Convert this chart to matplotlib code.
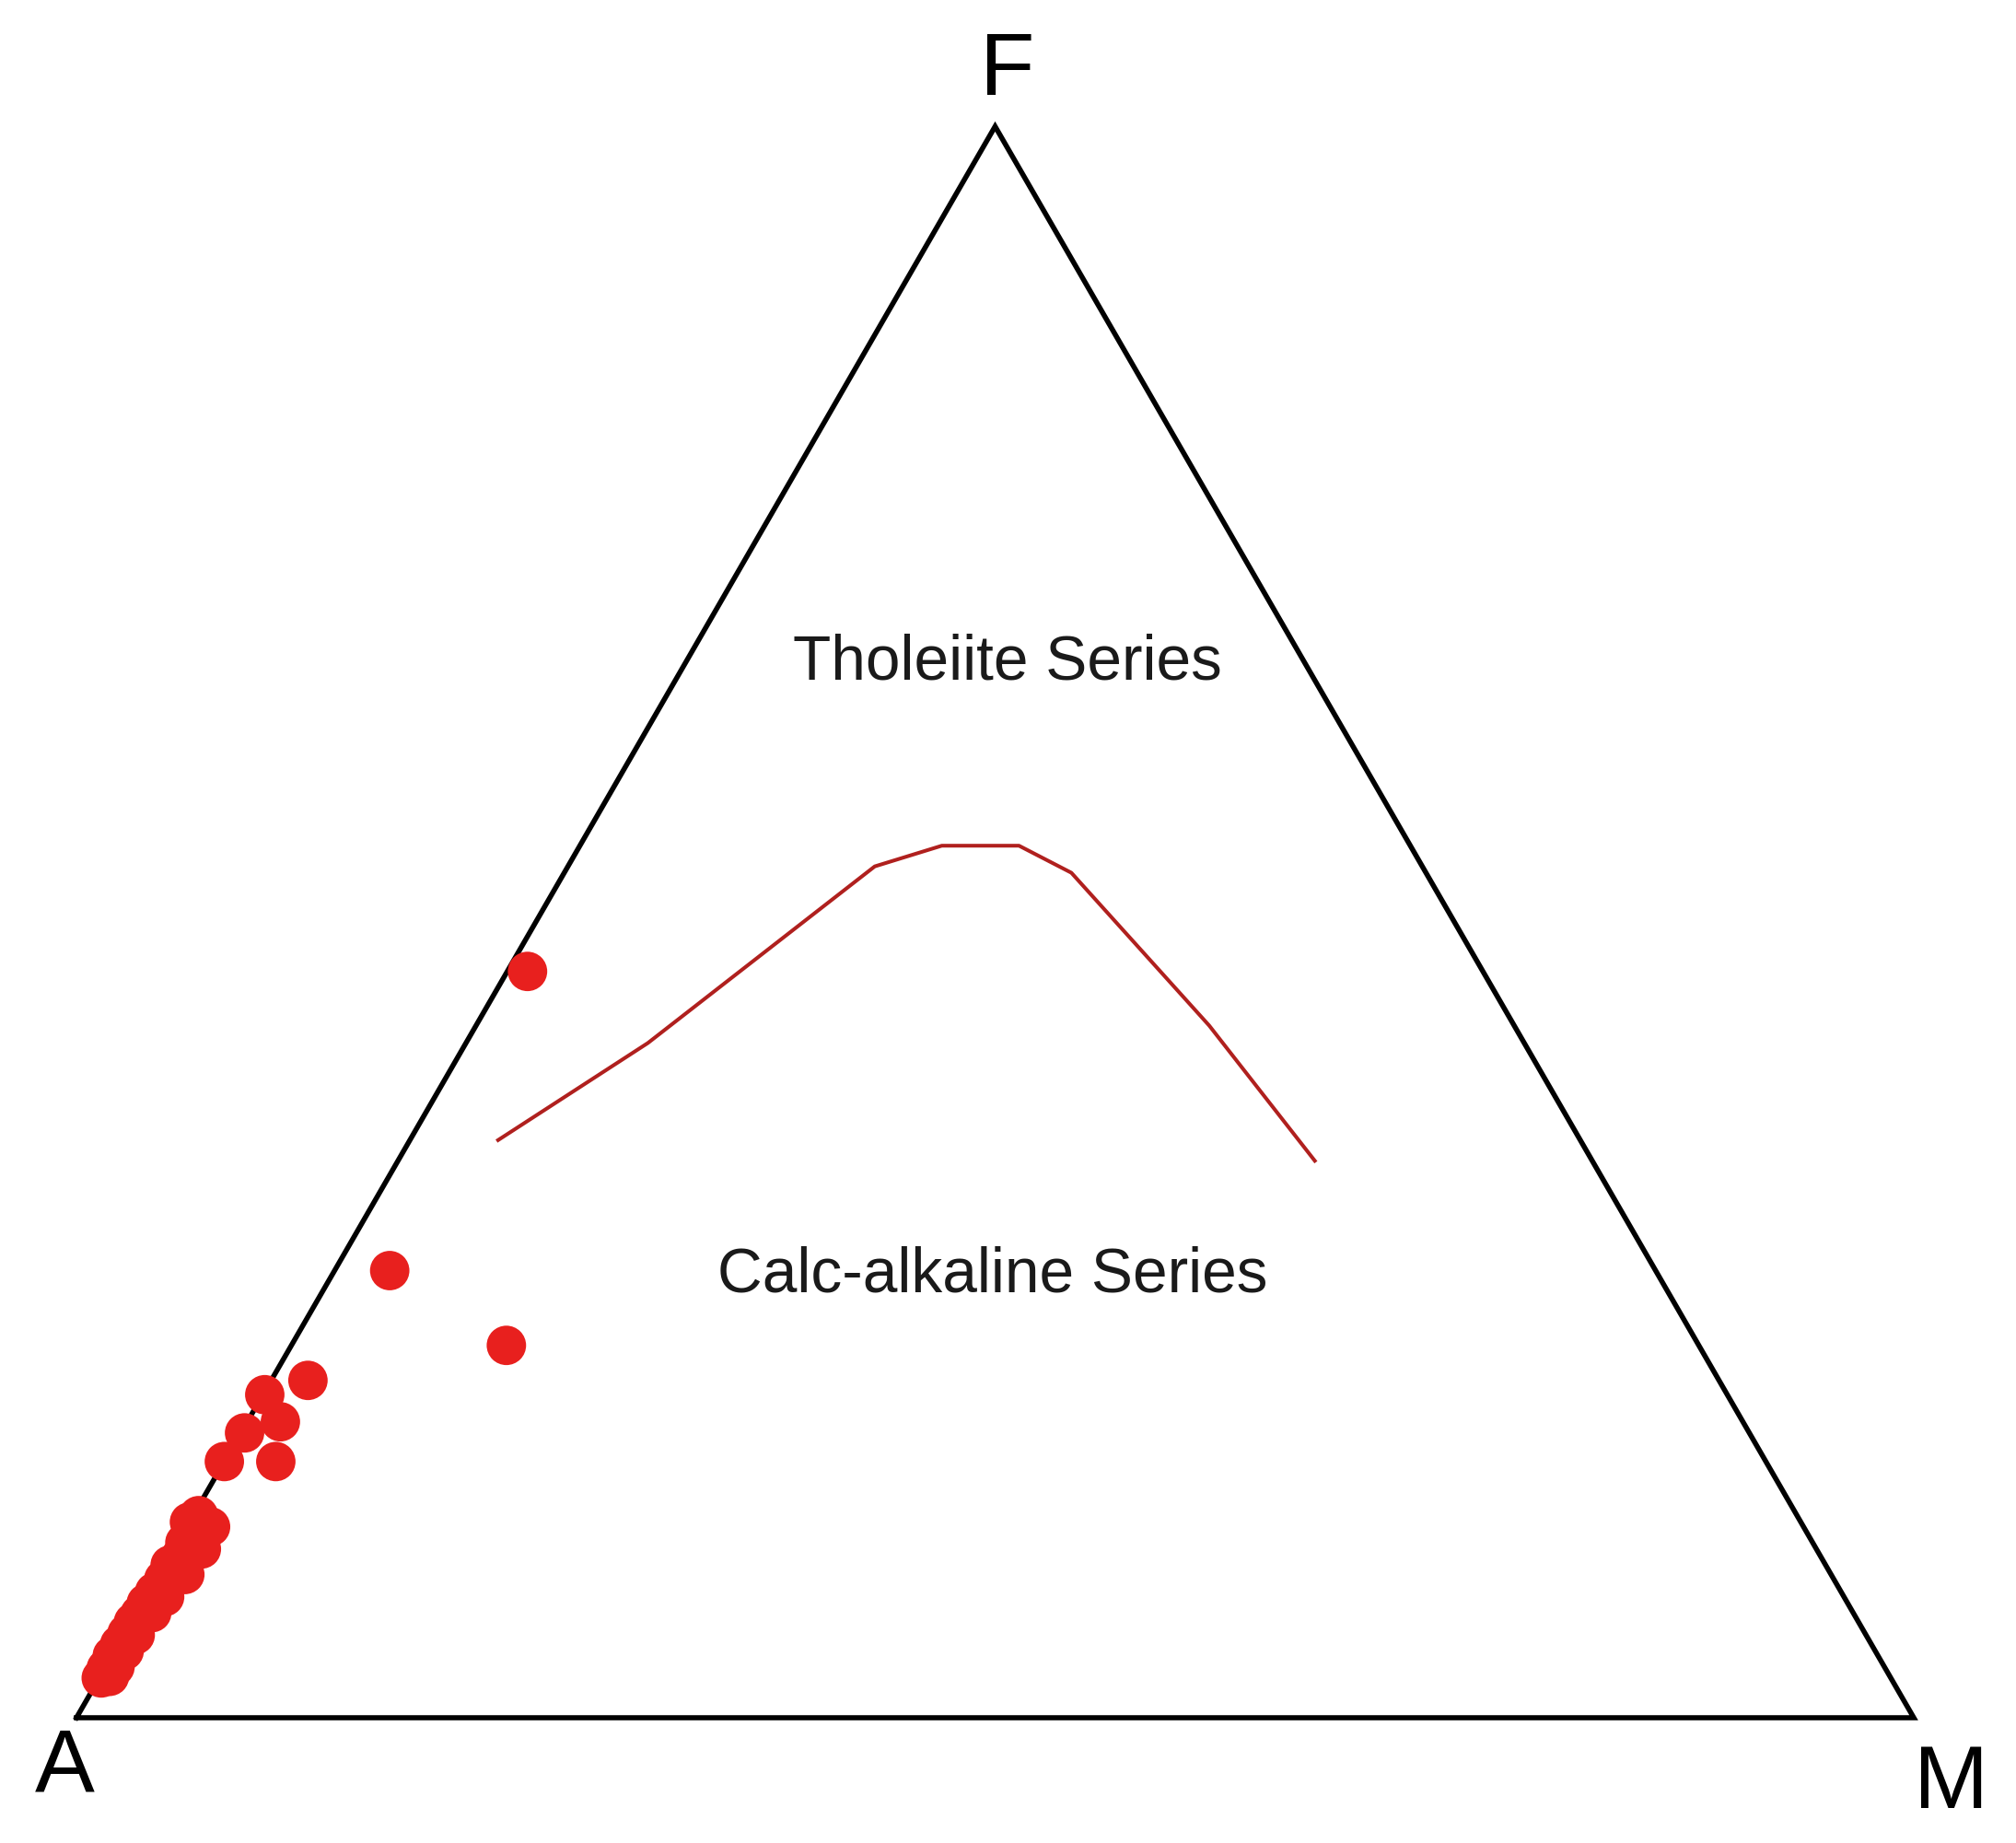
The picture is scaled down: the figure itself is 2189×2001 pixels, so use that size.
import numpy as np
import matplotlib as mpl
mpl.use("Agg")
import matplotlib.pyplot as plt

mpl.rcParams['font.family'] = ['Liberation Sans', 'DejaVu Sans']

# AFM ternary data, percentages (F = FeO*, M = MgO, A = Na2O + K2O)
sampleF = [46.9, 28.1, 23.4, 21.2, 20.3, 18.6, 17.9, 16.1, 16.1,
           12.7, 12.3, 11.6, 11.0, 10.1, 9.4, 9.6, 9.1, 8.7, 7.9,
           7.2, 6.5, 6.0, 5.3, 4.6, 3.9, 3.1, 2.5,
           12.0, 10.6, 9.0, 7.6, 6.6, 5.2, 4.2, 3.2, 2.6]
sampleM = [1.1, 3.0, 11.7, 2.0, 0.1, 1.8, 0.2, 0.0, 2.8,
           0.3, 0.0, 0.7, 0.4, 0.6, 1.1, 0.3, 1.2, 0.4, 0.3,
           0.2, 0.2, 0.1, 0.1, 0.05, 0.0, 0.07, 0.1,
           1.3, 1.5, 1.4, 1.0, 0.8, 0.6, 0.5, 0.5, 0.5]

# Irvine & Baragar style tholeiite / calc-alkaline boundary
boundF = [36.3, 42.4, 53.5, 54.8, 54.8, 53.1, 43.5, 35.0]
boundM = [4.8, 9.9, 16.7, 19.7, 23.9, 27.6, 39.9, 49.9]

corner_labels = ["A", "F", "M"]


def tern2xy(F, M):
    # A at (0, 0), M at (1, 0), F at apex
    F = np.asarray(F) / 100.0
    M = np.asarray(M) / 100.0
    x = M + 0.5 * F
    y = F * np.sqrt(3) / 2
    return x, y


fig = plt.figure(figsize=(21.89, 20.01), dpi=100)
ax = fig.add_axes([0, 0, 1, 1])
ax.set_xlim(-83 / 1995, 2106 / 1995)
ax.set_ylim(-136 / 1995, 1865 / 1995)
ax.set_aspect("equal")
ax.axis("off")

# Triangle frame
tx, ty = tern2xy([0, 0, 100, 0], [0, 100, 0, 0])
ax.plot(tx, ty, color="black", lw=4.0, solid_joinstyle="miter", zorder=2)

# Boundary curve
bx, by = tern2xy(boundF, boundM)
ax.plot(bx, by, color="#B0201E", lw=2.9, zorder=3)

# Samples
sx, sy = tern2xy(sampleF, sampleM)
ax.scatter(sx, sy, s=950, color="#E8201E", edgecolors="none", zorder=4,
           clip_on=False)

# Labels
ax.text(0.5068, 0.8832, corner_labels[1], fontsize=70, ha="center", va="baseline")
ax.text(-0.0065, -0.0401, corner_labels[0], fontsize=70, ha="center", va="baseline")
ax.text(1.0201, -0.0491, corner_labels[2], fontsize=70, ha="center", va="baseline")

ax.text(0.5068, 0.5654, "Tholeiite Series", fontsize=48.7, ha="center",
        va="baseline", color="#1a1a1a")
ax.text(0.4987, 0.2316, "Calc-alkaline Series", fontsize=48.7, ha="center",
        va="baseline", color="#1a1a1a")

fig.savefig("out.png", dpi=100, facecolor="white")
